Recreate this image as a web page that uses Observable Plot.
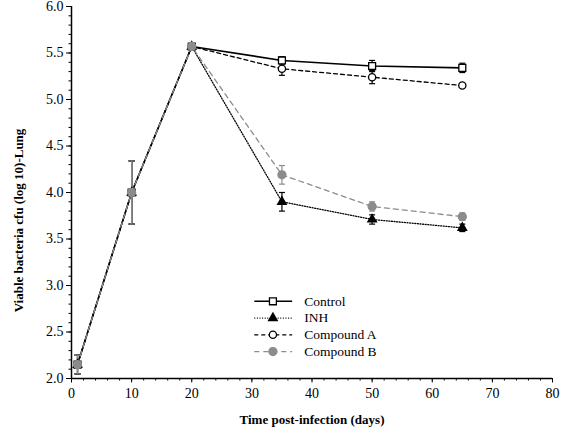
<!DOCTYPE html>
<html>
<head>
<meta charset="utf-8">
<script src="https://cdn.jsdelivr.net/npm/d3@7"></script>
<script src="https://cdn.jsdelivr.net/npm/@observablehq/plot@0.6"></script>
<style>
  html, body { margin: 0; padding: 0; background: #fff; }
  #chart { width: 570px; height: 430px; }
</style>
</head>
<body>
<div id="chart"></div>
<script>
// ---- data ----
const days = [1, 10, 20, 35, 50, 65];
const seriesNames = ["Control", "INH", "Compound A", "Compound B"];
const controlVals = [2.15, 4.00, 5.57, 5.42, 5.36, 5.34];
const controlErr  = [0.10, 0.34, 0.02, 0.04, 0.06, 0.05];
const inhVals     = [2.15, 4.00, 5.57, 3.90, 3.71, 3.62];
const inhErr      = [0.10, 0.34, 0.02, 0.10, 0.05, 0.04];
const compAVals   = [2.15, 4.00, 5.57, 5.33, 5.24, 5.15];
const compAErr    = [0.10, 0.34, 0.02, 0.07, 0.07, 0.00];
const compBVals   = [2.15, 4.00, 5.57, 4.19, 3.85, 3.74];
const compBErr    = [0.10, 0.34, 0.02, 0.10, 0.05, 0.04];
const xTicks = [0, 10, 20, 30, 40, 50, 60, 70, 80];
const yTicks = [2.0, 2.5, 3.0, 3.5, 4.0, 4.5, 5.0, 5.5, 6.0];
const xLabel = "Time post-infection (days)";
const yLabel = "Viable bacteria cfu (log 10)-Lung";

// ---- styles per series ----
const styles = {
  "Control":    {stroke: "#000", dash: null,      width: 1.6, symbol: "square",   fill: "#fff", mstroke: "#000", r: 3.9},
  "INH":        {stroke: "#000", dash: "1,1.6",   width: 1.3, symbol: "triangle", fill: "#000", mstroke: "#000", r: 3.2},
  "Compound A": {stroke: "#000", dash: "4,3",     width: 1.3, symbol: "circle",   fill: "#fff", mstroke: "#000", r: 3.6},
  "Compound B": {stroke: "#8c8c8c", dash: "5,4",  width: 1.3, symbol: "circle",   fill: "#8c8c8c", mstroke: "#8c8c8c", r: 4.0}
};
const dotOrder = ["INH", "Compound A", "Control", "Compound B"];

const valsBy = {"Control": controlVals, "INH": inhVals, "Compound A": compAVals, "Compound B": compBVals};
const errBy  = {"Control": controlErr,  "INH": inhErr,  "Compound A": compAErr,  "Compound B": compBErr};

const rows = seriesNames.flatMap(s => days.map((d, i) => ({series: s, day: d, v: valsBy[s][i], e: errBy[s][i]})));

const marks = [];
// axes
marks.push(Plot.axisX({ticks: d3.range(0, 81, 2), tickSize: 2.5, text: null, label: null}));
marks.push(Plot.axisX({ticks: xTicks, tickSize: 4.5, tickPadding: 5, tickFormat: d => d, fontSize: 14, label: null}));
marks.push(Plot.axisY({ticks: d3.range(20, 61, 1).map(d => d / 10), tickSize: 2.5, text: null, label: null}));
marks.push(Plot.axisY({ticks: yTicks, tickSize: 5, tickPadding: 3, tickFormat: d3.format(".1f"), fontSize: 14, label: null}));
marks.push(Plot.ruleX([0], {y1: 2, y2: 6, stroke: "#000", strokeWidth: 1.5}));
marks.push(Plot.ruleY([2], {x1: 0, x2: 80, stroke: "#000", strokeWidth: 1.5}));

const capRender = (index, scales, values, dims, ctx, next) => {
  const g = next(index, scales, values, dims, ctx);
  d3.select(g).selectAll("path").each(function(_, k) {
    const i = index[k];
    const x = values.x1[i], y = values.y1[i];
    d3.select(this).attr("d", `M${x - 3},${y}H${x + 3}`);
  });
  return g;
};

for (const s of seriesNames) {
  const st = styles[s];
  const data = rows.filter(r => r.series === s);
  const eb = data.filter(r => r.e > 0);
  marks.push(Plot.line(data, {x: "day", y: "v", stroke: st.stroke, strokeWidth: st.width, strokeDasharray: st.dash}));
  marks.push(Plot.link(eb, {x1: "day", x2: "day", y1: r => r.v - r.e, y2: r => r.v + r.e, stroke: st.stroke, strokeWidth: 1.2}));
  for (const which of [-1, 1]) {
    marks.push(Plot.link(eb, {x1: "day", x2: "day", y1: r => r.v + which * r.e, y2: r => r.v + which * r.e,
      stroke: st.stroke, strokeWidth: 1.2, render: capRender}));
  }
}
for (const s of dotOrder) {
  const st = styles[s];
  const data = rows.filter(r => r.series === s);
  marks.push(Plot.dot(data, {x: "day", y: "v", symbol: st.symbol, r: st.r, fill: st.fill, stroke: st.mstroke, strokeWidth: 1.3}));
}

// legend (inside the plot area)
const legendRows = seriesNames.map((s, i) => ({series: s, y: 2.83 - i * 0.18}));
for (const lr of legendRows) {
  const st = styles[lr.series];
  marks.push(Plot.link([lr], {x1: () => 30.4, x2: () => 36.7, y1: "y", y2: "y", stroke: st.stroke, strokeWidth: st.width, strokeDasharray: st.dash}));
  marks.push(Plot.dot([lr], {x: () => 33.5, y: "y", symbol: st.symbol, r: st.r, fill: st.fill, stroke: st.mstroke, strokeWidth: 1.3}));
  marks.push(Plot.text([lr], {x: () => 38.7, y: "y", text: "series", textAnchor: "start", fontSize: 13.5, fill: "#000"}));
}

// axis titles
marks.push(Plot.text([xLabel], {frameAnchor: "bottom", dy: 45, textAnchor: "middle", text: d => d, fontSize: 13, fontWeight: "bold", fill: "#000"}));
marks.push(Plot.text([yLabel], {frameAnchor: "left", dx: -53, dy: 28, textAnchor: "middle", rotate: -90, text: d => d, fontSize: 13, fontWeight: "bold", fill: "#000"}));

const chart = Plot.plot({
  width: 570,
  height: 430,
  marginLeft: 71,
  marginRight: 18,
  marginTop: 6,
  marginBottom: 52,
  x: {type: "linear", domain: [0, 80], label: null},
  y: {type: "linear", domain: [2, 6], label: null},
  style: {fontFamily: "'Liberation Serif', 'DejaVu Serif', serif", color: "#000", background: "#fff"},
  marks
});
document.getElementById("chart").appendChild(chart);
</script>
</body>
</html>
